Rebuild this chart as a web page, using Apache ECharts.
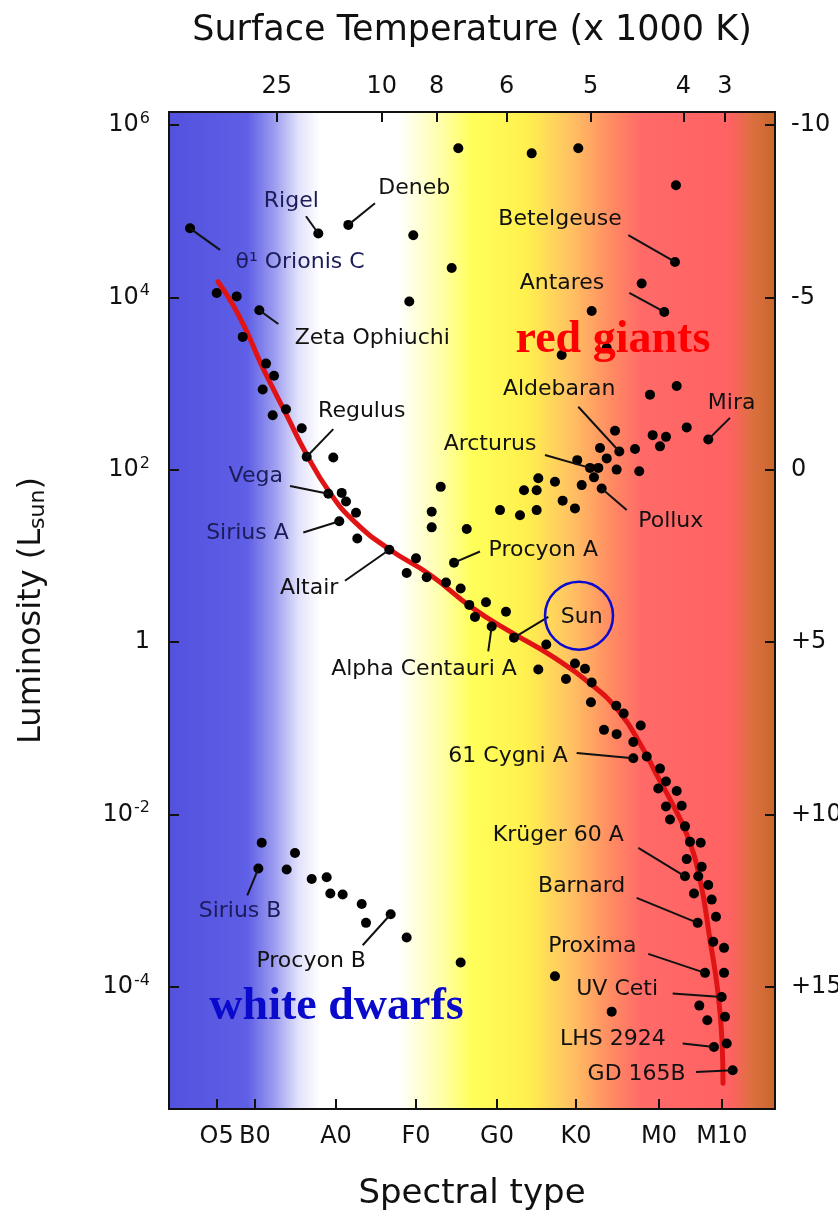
<!DOCTYPE html>
<html>
<head>
<meta charset="utf-8">
<script src="https://cdn.jsdelivr.net/npm/echarts@6/dist/echarts.min.js"></script>
<style>
html,body{margin:0;padding:0;background:#fff;}
#chart{width:838px;height:1219px;}
</style>
</head>
<body>
<div id="chart"></div>
<script>
// ---- axis ticks ----
const spectralTickPos = [7.87, 14.19, 27.56, 40.76, 54.13, 67.16, 80.86, 91.25];
const spectralTickLabels = ['O5', 'B0', 'A0', 'F0', 'G0', 'K0', 'M0', 'M10'];
const tempTickPos = [17.77, 35.10, 44.18, 55.73, 69.59, 84.87, 91.75];
const tempTickLabels = ['25', '10', '8', '6', '5', '4', '3'];
const lumExponents = [6, 4, 2, 0, -2, -4];          // log10(L / Lsun)
const magTicks = [-10, -5, 0, 5, 10, 15];          // absolute magnitude

// ---- stars: [spectral position, log10 L] ----
const supergiants = [[3.47,4.80],[24.64,4.74],[29.59,4.84],[47.74,5.73],[40.31,4.72],[46.65,4.34],[39.65,3.95],
  [59.85,5.67],[67.54,5.73],[83.66,5.30],[83.50,4.41],[78.00,4.16],[81.73,3.83],[69.75,3.84],[64.80,3.33],[72.23,3.41]];
const giants = [[79.37,2.87],[83.78,2.97],[88.99,2.35],[85.43,2.49],[79.81,2.40],[82.01,2.38],[81.02,2.27],[73.60,2.45],
  [74.31,2.21],[76.90,2.24],[71.12,2.25],[72.23,2.13],[69.47,2.02],[67.37,2.11],[70.84,2.02],[73.87,2.00],[77.60,1.98],
  [70.13,1.91],[71.40,1.78],[68.10,1.82],[60.94,1.90],[63.69,1.86],[58.58,1.76],[60.67,1.76],[64.96,1.64],[66.99,1.55],
  [54.62,1.53],[57.92,1.47],[60.67,1.53],[44.84,1.80],[43.35,1.51],[43.35,1.33],[49.13,1.31]];
const mainSequence = [[7.87,4.05],[11.17,4.01],[14.90,3.85],[12.16,3.54],[16.01,3.23],[17.33,3.09],[15.46,2.93],[19.31,2.70],
  [17.11,2.63],[21.90,2.48],[22.72,2.15],[27.11,2.14],[26.29,1.72],[28.50,1.73],[29.21,1.63],[30.86,1.50],[28.10,1.40],
  [31.07,1.20],[36.35,1.07],[40.76,0.97],[39.22,0.80],[42.52,0.75],[45.71,0.69],[48.13,0.62],[49.55,0.43],[50.49,0.29],
  [47.03,0.92],[52.31,0.46],[55.61,0.35],[53.25,0.18],[56.93,0.05],[62.26,-0.03],[60.94,-0.32],[66.99,-0.25],[68.65,-0.31],
  [65.51,-0.43],[69.75,-0.47],[69.63,-0.70],[73.81,-0.74],[75.03,-0.83],[77.84,-0.97],[71.78,-1.02],[73.87,-1.07],
  [76.62,-1.16],[76.62,-1.35],[78.83,-1.33],[81.02,-1.47],[82.01,-1.62],[80.74,-1.70],[83.78,-1.73],[82.01,-1.91],
  [84.60,-1.90],[82.67,-2.06],[85.15,-2.14],[85.97,-2.32],[87.74,-2.33],[85.43,-2.52],[87.90,-2.61],[85.15,-2.72],
  [87.34,-2.72],[88.99,-2.82],[86.63,-2.92],[89.55,-2.99],[90.26,-3.19],[87.24,-3.26],[89.81,-3.48],[91.59,-3.55],
  [88.45,-3.84],[91.59,-3.84],[91.20,-4.12],[87.51,-4.22],[91.75,-4.35],[88.83,-4.39],[89.93,-4.70],[92.03,-4.66],[93.02,-4.97]];
const whiteDwarfs = [[15.30,-2.33],[20.79,-2.45],[14.74,-2.63],[19.42,-2.64],[23.55,-2.75],[26.02,-2.73],[26.62,-2.92],
  [28.66,-2.93],[31.80,-3.04],[36.58,-3.16],[32.51,-3.26],[39.22,-3.43],[48.13,-3.72],[63.69,-3.88],[73.05,-4.29]];

// ---- main-sequence curve ----
const msCurve = [[8.09,4.18],[10.40,3.93],[12.71,3.62],[15.02,3.25],[17.33,2.92],[19.64,2.60],[22.44,2.21],[26.57,1.73],
  [30.69,1.39],[36.47,1.07],[43.07,0.78],[50.17,0.39],[56.77,0.10],[62.87,-0.15],[69.47,-0.48],[74.42,-0.82],
  [78.05,-1.22],[80.69,-1.57],[83.00,-1.87],[85.48,-2.24],[87.63,-2.76],[89.28,-3.46],[90.59,-4.07],[91.25,-4.62],[91.42,-5.12]];

// ---- annotations: label centre, leader start, star ----
const starNames = ['θ¹ Orionis C','Rigel','Deneb','Zeta Ophiuchi','Betelgeuse','Antares','Regulus','Vega','Sirius A','Altair',
  'Arcturus','Aldebaran','Mira','Pollux','Procyon A','Sun','Alpha Centauri A','61 Cygni A','Krüger 60 A','Barnard',
  'Proxima','UV Ceti','LHS 2924','GD 165B','Sirius B','Procyon B'];
const labelAt = [[21.62,4.41],[20.18,5.11],[40.46,5.27],[33.55,3.52],[64.52,4.90],[64.85,4.16],[31.80,2.68],[14.32,1.92],
  [12.95,1.26],[23.13,0.62],[52.97,2.29],[64.39,2.93],[92.85,2.77],[82.80,1.40],[61.77,1.06],[68.10,0.29],[42.08,-0.32],
  [55.94,-1.33],[64.24,-2.24],[68.10,-2.84],[69.85,-3.53],[73.95,-4.03],[73.23,-4.61],[77.17,-5.02],[11.72,-3.13],[23.46,-3.71]];
const leaderFrom = [[8.42,4.55],[22.61,4.94],[33.99,5.09],[18.04,3.69],[75.79,4.72],[75.96,4.05],[27.11,2.47],[19.97,1.81],
  [22.16,1.27],[29.04,0.71],[62.04,2.17],[67.54,2.73],[92.57,2.60],[75.53,1.53],[51.32,1.05],[62.59,0.29],[52.68,-0.11],
  [67.27,-1.29],[77.44,-2.39],[77.17,-2.97],[79.08,-3.62],[83.11,-4.08],[84.76,-4.66],[86.96,-4.99],[12.92,-2.94],[31.96,-3.52]];
const leaderTo = [[3.47,4.80],[24.64,4.74],[29.59,4.84],[14.90,3.85],[83.50,4.41],[81.73,3.83],[22.72,2.15],[26.29,1.72],
  [28.10,1.40],[36.35,1.07],[69.47,2.02],[74.31,2.21],[88.99,2.35],[71.40,1.78],[47.03,0.92],[56.93,0.05],[53.25,0.18],
  [76.62,-1.35],[85.15,-2.72],[87.24,-3.26],[88.45,-3.84],[91.20,-4.12],[89.93,-4.70],[93.02,-4.97],[14.74,-2.63],[36.58,-3.16]];
const sunCircle = [67.66, 0.305];
const regionNames = ['red giants', 'white dwarfs'];
const regionAt = [[73.26, 3.50], [27.64, -4.24]];

const FONT = 'DejaVu Sans';
const chart = echarts.init(document.getElementById('chart'), null, {renderer: 'canvas'});

const bg = new echarts.graphic.LinearGradient(0, 0, 1, 0, [
  {offset: 0.00, color: '#5252de'},
  {offset: 0.13, color: '#5e5ee6'},
  {offset: 0.175, color: '#9c9cf0'},
  {offset: 0.215, color: '#e2e2fb'},
  {offset: 0.25, color: '#ffffff'},
  {offset: 0.38, color: '#ffffff'},
  {offset: 0.45, color: '#ffffa8'},
  {offset: 0.50, color: '#ffff5a'},
  {offset: 0.59, color: '#fff04e'},
  {offset: 0.66, color: '#ffc462'},
  {offset: 0.73, color: '#ff8a62'},
  {offset: 0.78, color: '#ff6a68'},
  {offset: 0.925, color: '#ff6262'},
  {offset: 0.96, color: '#dc7040'},
  {offset: 1.00, color: '#c8662c'}
]);

const tickStyle = {inside: true, length: 10, lineStyle: {color: '#111', width: 2}};
const axisLineStyle = {show: true, onZero: false, lineStyle: {color: '#111', width: 2}};
function dotSeries(data) {
  return {type: 'scatter', data: data, symbolSize: 10, itemStyle: {color: '#000', opacity: 1}, z: 4, silent: true};
}

const labelData = starNames.map((n, i) => ({
  name: n, value: labelAt[i],
  label: {color: labelAt[i][0] < 22 ? '#1c1c5a' : '#111111'}
}));

chart.setOption({
  animation: false,
  textStyle: {fontFamily: FONT},
  grid: {left: 169, right: 63, top: 112, bottom: 110, show: true, backgroundColor: bg,
         borderColor: '#111', borderWidth: 2, containLabel: false, outerBoundsMode: 'none'},
  xAxis: [{
    type: 'value', min: 0, max: 100, position: 'bottom',
    axisLine: axisLineStyle,
    axisTick: Object.assign({customValues: spectralTickPos}, tickStyle),
    axisLabel: {customValues: spectralTickPos, margin: 16, fontSize: 24, color: '#111', fontFamily: FONT,
      formatter: v => spectralTickLabels[spectralTickPos.indexOf(v)]},
    splitLine: {show: false},
    name: 'Spectral type', nameLocation: 'middle', nameGap: 68,
    nameTextStyle: {fontSize: 34, color: '#111', fontFamily: FONT}
  }, {
    type: 'value', min: 0, max: 100, position: 'top',
    axisLine: axisLineStyle,
    axisTick: Object.assign({customValues: tempTickPos}, tickStyle),
    axisLabel: {customValues: tempTickPos, margin: 13, fontSize: 24, color: '#111', fontFamily: FONT,
      formatter: v => tempTickLabels[tempTickPos.indexOf(v)]},
    splitLine: {show: false},
    name: 'Surface Temperature (x 1000 K)', nameLocation: 'middle', nameGap: 64,
    nameTextStyle: {fontSize: 35, color: '#111', fontFamily: FONT}
  }],
  yAxis: [{
    type: 'value', min: -5.42, max: 6.15, position: 'left',
    axisLine: axisLineStyle,
    axisTick: Object.assign({customValues: lumExponents}, tickStyle),
    axisLabel: {customValues: lumExponents, margin: 19, color: '#111', fontFamily: FONT,
      formatter: v => v === 0 ? '{b|1}' : '{b|10}{s|' + v + '}',
      rich: {b: {fontSize: 24, color: '#111', fontFamily: FONT},
             s: {fontSize: 16, color: '#111', fontFamily: FONT, padding: [0, 0, 12, 1]}}},
    splitLine: {show: false},
    name: '{n|Luminosity (L}{u|sun}{n|)}', nameLocation: 'middle', nameGap: 120, nameRotate: 90,
    nameTextStyle: {rich: {n: {fontSize: 32, color: '#111', fontFamily: FONT},
                           u: {fontSize: 22, color: '#111', fontFamily: FONT, padding: [12, 0, 0, 0]}}}
  }, {
    type: 'value', min: -5.42, max: 6.15, position: 'right',
    axisLine: axisLineStyle,
    axisTick: Object.assign({customValues: magTicks.map(m => (5 - m) / 2.5)}, tickStyle),
    axisLabel: {customValues: magTicks.map(m => (5 - m) / 2.5), margin: 16, fontSize: 24, color: '#111', fontFamily: FONT,
      formatter: v => { const m = Math.round(5 - 2.5 * v); return m > 0 ? '+' + m : String(m); }},
    splitLine: {show: false}
  }],
  series: [
    {type: 'line', data: msCurve, smooth: 0.5, symbol: 'none', z: 3, silent: true,
     lineStyle: {color: '#e01414', width: 5, cap: 'round', join: 'round'}},
    dotSeries(supergiants),
    dotSeries(giants),
    dotSeries(mainSequence),
    dotSeries(whiteDwarfs),
    {type: 'lines', coordinateSystem: 'cartesian2d', z: 5, silent: true,
     data: leaderFrom.map((f, i) => ({coords: [f, leaderTo[i]]})),
     lineStyle: {color: '#111', width: 2, opacity: 1, curveness: 0}},
    {type: 'scatter', data: labelData, symbolSize: 1, itemStyle: {color: 'rgba(0,0,0,0)', opacity: 1}, z: 6, silent: true,
     label: {show: true, position: 'inside', formatter: '{b}', fontSize: 22, fontFamily: FONT, color: '#111'}},
    {type: 'scatter', data: [sunCircle], symbolSize: 68, z: 6, silent: true,
     itemStyle: {color: 'rgba(0,0,0,0)', borderColor: '#0a0ad0', borderWidth: 2.5, opacity: 1}},
    {type: 'scatter', silent: true, z: 7, symbolSize: 1, itemStyle: {color: 'rgba(0,0,0,0)', opacity: 1},
     data: regionNames.map((n, i) => ({name: n, value: regionAt[i],
       label: {color: i === 0 ? '#ff0000' : '#0a0acc'}})),
     label: {show: true, position: 'inside', formatter: '{b}', fontSize: 46, fontWeight: 'bold',
             fontFamily: 'Liberation Serif'}}
  ]
});
</script>
</body>
</html>
